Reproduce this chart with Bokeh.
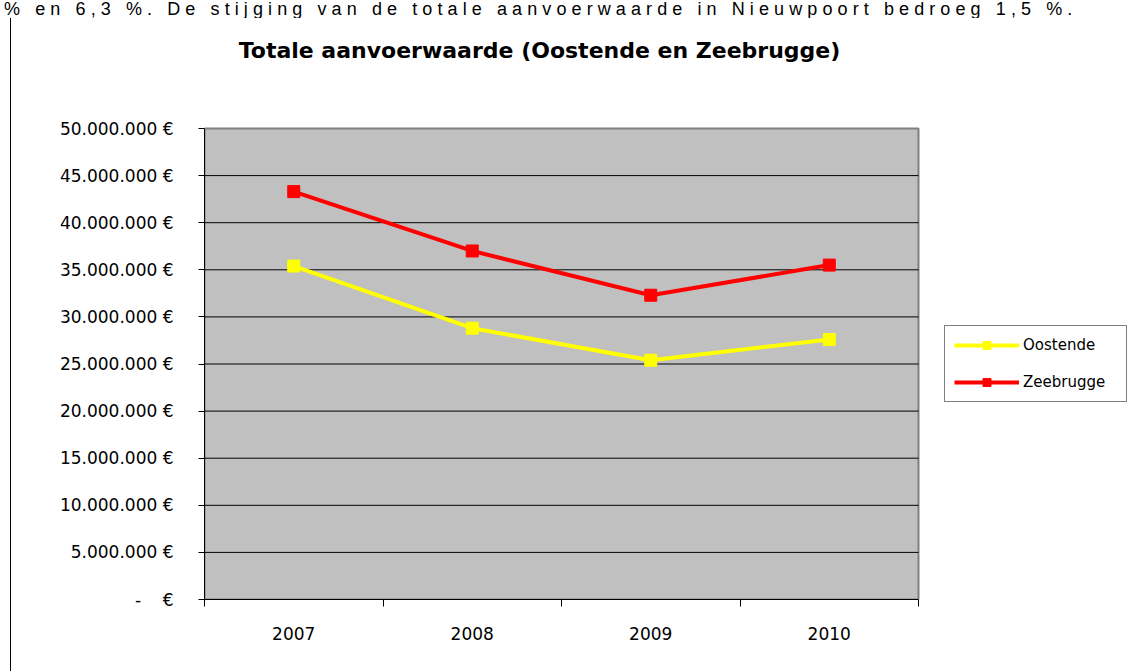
from bokeh.plotting import figure
from bokeh.models import (FixedTicker, Legend, LegendItem, Div, Label,
                          ColumnDataSource, Range1d)
from bokeh.layouts import row, column
from bokeh.embed import file_html
from bokeh.resources import INLINE

# ---- data ----
years = ["2007", "2008", "2009", "2010"]
oostende = [35_400_000, 28_800_000, 25_400_000, 27_600_000]
zeebrugge = [43_300_000, 37_000_000, 32_300_000, 35_500_000]
y_ticks = [0, 5_000_000, 10_000_000, 15_000_000, 20_000_000, 25_000_000,
           30_000_000, 35_000_000, 40_000_000, 45_000_000, 50_000_000]
y_tick_labels = ["-\u00a0\u00a0\u00a0\u00a0€", "5.000.000 €", "10.000.000 €", "15.000.000 €",
                 "20.000.000 €", "25.000.000 €", "30.000.000 €", "35.000.000 €",
                 "40.000.000 €", "45.000.000 €", "50.000.000 €"]
title_text = "Totale aanvoerwaarde (Oostende en Zeebrugge)"
context_text = "% en 6,3 %. De stijging van de totale aanvoerwaarde in Nieuwpoort bedroeg 1,5 %."

FONT = "DejaVu Sans"

n = len(years)
y_max = y_ticks[-1]
xs = [i + 0.5 for i in range(n)]
src = ColumnDataSource(dict(x=xs, oostende=oostende, zeebrugge=zeebrugge))
grid_src = ColumnDataSource(dict(y=y_ticks[1:-1], x0=[0] * (len(y_ticks) - 2),
                                 x1=[n] * (len(y_ticks) - 2)))

# ---- layout in page pixels ----
TOTAL_W, TOTAL_H = 1127, 671
TOP_H = 18            # context text line above the chart
LINE_W = 11           # document margin line on the left
W, H = TOTAL_W - LINE_W, TOTAL_H - TOP_H
PA_L, PA_R, PA_T, PA_B = 204, 918, 128, 599   # plot area in page pixels
FRAME_L = PA_L - LINE_W
FRAME_B = PA_B - TOP_H
px_per_x = (PA_R - PA_L) / n
px_per_y = (PA_B - PA_T) / y_max
x_end = n + (TOTAL_W - PA_R) / px_per_x
y_end = y_max + (PA_T - TOP_H) / px_per_y

p = figure(width=W, height=H, output_backend="svg", toolbar_location=None,
           x_range=Range1d(0, x_end), y_range=Range1d(0, y_end),
           min_border_left=FRAME_L, min_border_right=0,
           min_border_top=0, min_border_bottom=H - FRAME_B,
           margin=(0, 0, 0, 0))
p.title.text = ""
p.title.standoff = 0
p.border_fill_color = "white"
p.background_fill_color = "white"
p.outline_line_color = None
p.xgrid.visible = False
p.ygrid.visible = False

# plot area, grid lines, series
p.quad(left=0, right=n, bottom=0, top=y_max, fill_color="#C0C0C0",
       line_color="#808080", line_width=2)
p.segment(x0="x0", x1="x1", y0="y", y1="y", source=grid_src, color="black", line_width=1)

lo = p.line("x", "oostende", source=src, color="#FFFF00", line_width=4, line_join="round")
so = p.scatter("x", "oostende", source=src, marker="square", size=12,
               fill_color="#FFFF00", line_color="#FFFF00")
lz = p.line("x", "zeebrugge", source=src, color="#FF0000", line_width=4, line_join="round")
sz = p.scatter("x", "zeebrugge", source=src, marker="square", size=12,
               fill_color="#FF0000", line_color="#FF0000")

# axes
p.yaxis.ticker = FixedTicker(ticks=y_ticks)
p.yaxis.bounds = (0, y_max)
p.yaxis.major_label_overrides = {t: l for t, l in zip(y_ticks, y_tick_labels)}
p.yaxis.major_tick_out = 6
p.yaxis.major_tick_in = 0
p.yaxis.minor_tick_out = 0
p.yaxis.minor_tick_in = 0
p.yaxis.major_label_standoff = 25
p.yaxis.major_label_text_font = FONT
p.yaxis.major_label_text_font_size = "17px"
p.yaxis.major_label_text_color = "black"
p.yaxis.axis_line_color = "black"
p.yaxis.major_tick_line_color = "black"

p.xaxis.ticker = FixedTicker(ticks=xs, minor_ticks=list(range(n + 1)))
p.xaxis.bounds = (0, n)
p.xaxis.major_label_overrides = {x: y for x, y in zip(xs, years)}
p.xaxis.major_tick_out = 0
p.xaxis.major_tick_in = 0
p.xaxis.minor_tick_out = 7
p.xaxis.minor_tick_in = 0
p.xaxis.minor_tick_line_color = "black"
p.xaxis.major_label_standoff = 20
p.xaxis.major_label_text_font = FONT
p.xaxis.major_label_text_font_size = "17px"
p.xaxis.major_label_text_color = "black"
p.xaxis.axis_line_color = "black"

# title (screen offsets from the frame's bottom-left corner)
p.add_layout(Label(x=539 - PA_L, y=PA_B - 50, x_units="screen", y_units="screen",
                   text=title_text, text_align="center", text_baseline="middle",
                   text_font=FONT, text_font_style="bold", text_font_size="22px",
                   text_color="black"))

legend = Legend(items=[LegendItem(label="Oostende", renderers=[lo, so]),
                       LegendItem(label="Zeebrugge", renderers=[lz, sz])],
                location=(944 - PA_L, PA_B - 402), orientation="vertical",
                glyph_width=65, glyph_height=20, label_height=20, label_width=94,
                spacing=17, padding=9, margin=0, label_standoff=4,
                label_text_font=FONT, label_text_font_size="15px",
                label_text_color="black",
                border_line_color="black", border_line_width=1,
                background_fill_color="white", background_fill_alpha=1.0)
p.add_layout(legend, "center")

# surrounding document context: text line above and margin line on the left
top_text = Div(text=context_text, width=TOTAL_W, height=TOP_H, margin=(0, 0, 0, 0),
               styles={"font-family": "Liberation Sans", "font-size": "18px",
                       "line-height": "18px", "letter-spacing": "5.1px",
                       "white-space": "nowrap", "color": "black",
                       "padding-left": "4px", "overflow": "hidden",
                       "box-sizing": "border-box"})
side_line = Div(text="", width=LINE_W, height=H, margin=(0, 0, 0, 0),
                styles={"border-right": "1px solid black", "box-sizing": "border-box"})

layout = column(top_text, row(side_line, p, spacing=0), spacing=0)

open("out.html", "w").write(file_html(layout, INLINE))
